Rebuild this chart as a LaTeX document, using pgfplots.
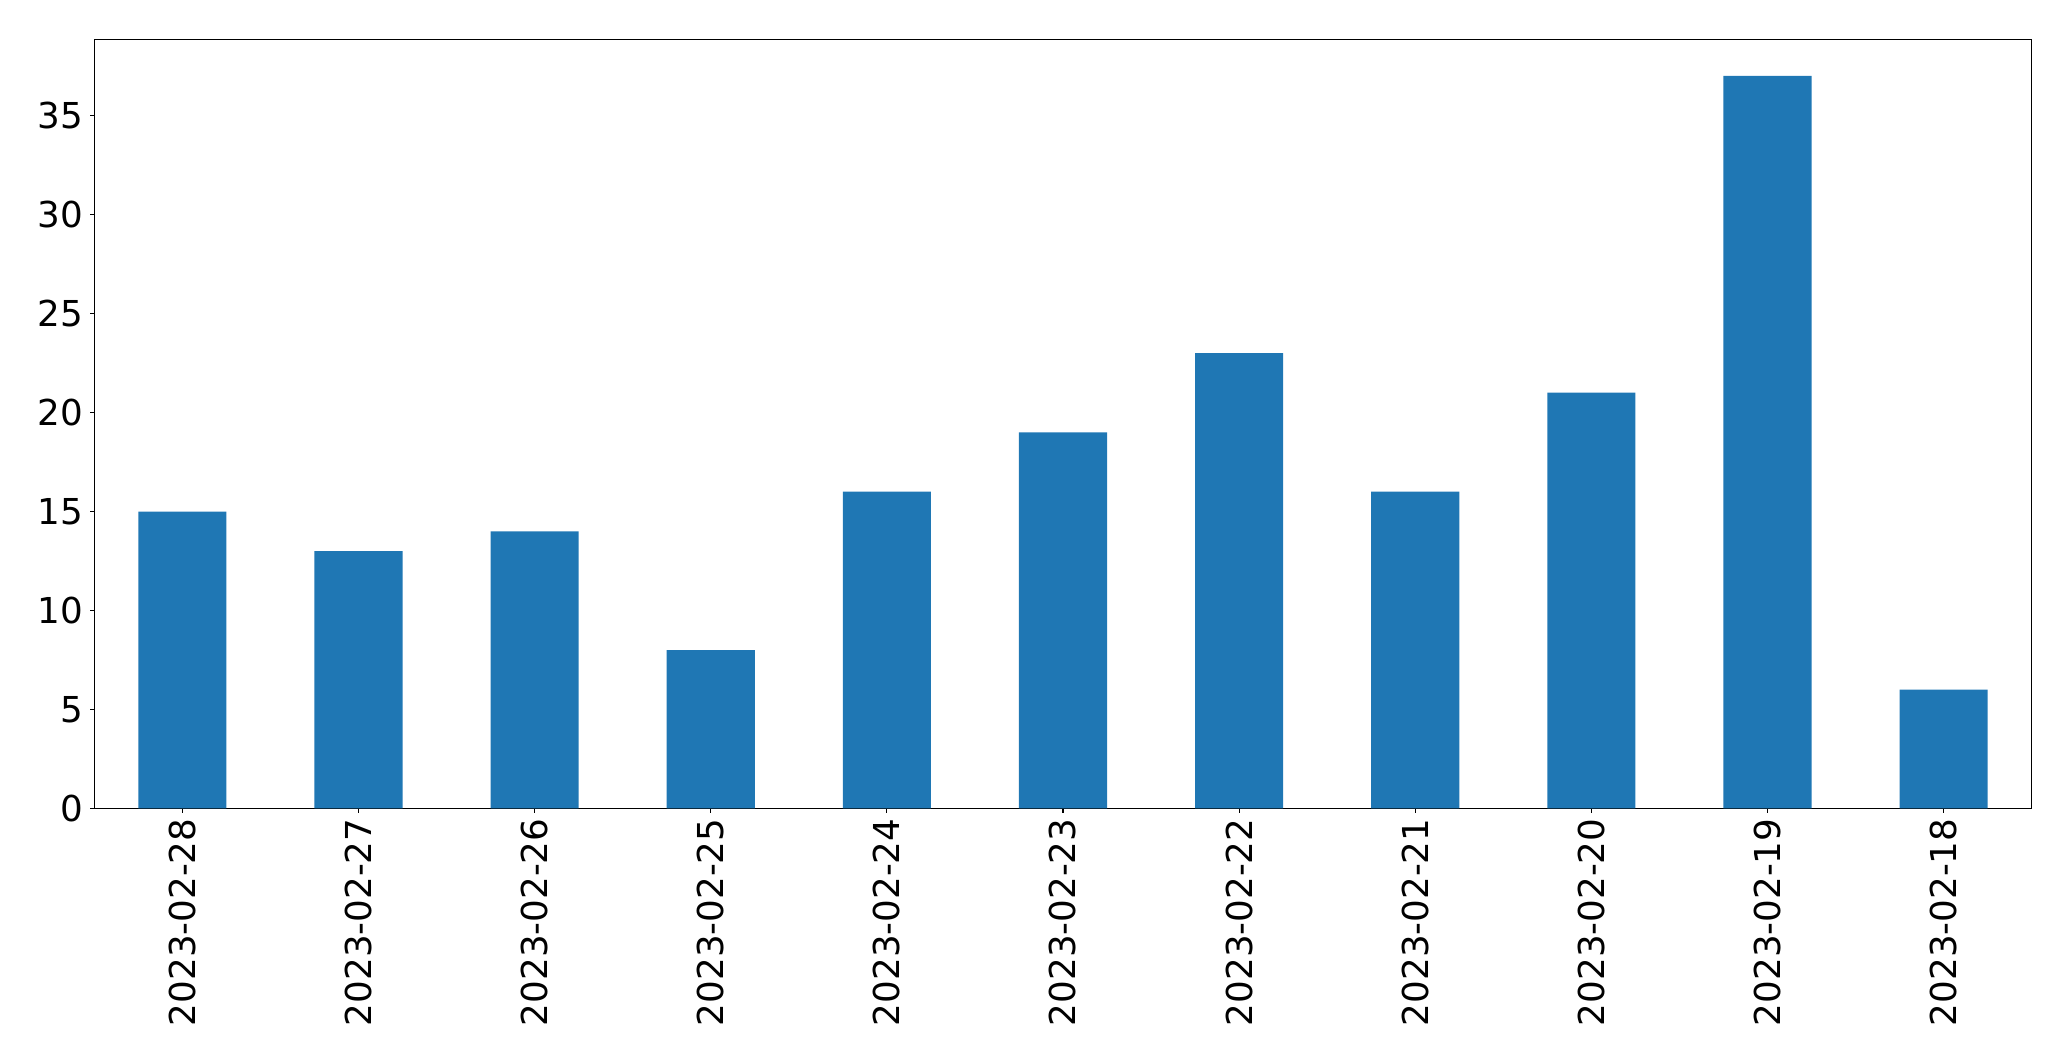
\documentclass[border=0pt]{standalone}
\usepackage{pgfplots}
\pgfplotsset{compat=1.18}
\usepackage{fontspec}
\setmainfont{DejaVu Sans}
\definecolor{mplblue}{HTML}{1F77B4}
\begin{document}
\begin{tikzpicture}
\begin{axis}[
  at={(0,0)}, anchor=south west,
  scale only axis,
  width=1394.9pt, height=553.8pt,
  xmin=-0.5, xmax=10.5,
  ymin=0, ymax=38.85,
  xtick={0,...,10},
  xticklabels={2023-02-28,2023-02-27,2023-02-26,2023-02-25,2023-02-24,2023-02-23,2023-02-22,2023-02-21,2023-02-20,2023-02-19,2023-02-18},
  ytick={0,5,10,15,20,25,30,35},
  tick align=outside,
  tick pos=left,
  major tick length=3.1pt,
  every tick/.style={black, line width=0.8pt},
  axis line style={line width=0.8pt},
  /pgf/number format/assume math mode=true,
  tick label style={font=\fontsize{25.7}{30}\selectfont},
  xticklabel style={rotate=90, anchor=east, inner sep=0pt, xshift=-4pt},
  yticklabel style={anchor=east, inner sep=0pt, xshift=-5pt},
  grid=none,
  clip=false,
]
\addplot[ybar, bar width=0.5, fill=mplblue, draw=none, bar shift=0pt] coordinates {
(0,15) (1,13) (2,14) (3,8) (4,16) (5,19) (6,23) (7,16) (8,21) (9,37) (10,6)
};
\end{axis}
\path (-67.9pt,-182.0pt) rectangle (1423.2pt,582.1pt);
\end{tikzpicture}
\end{document}
